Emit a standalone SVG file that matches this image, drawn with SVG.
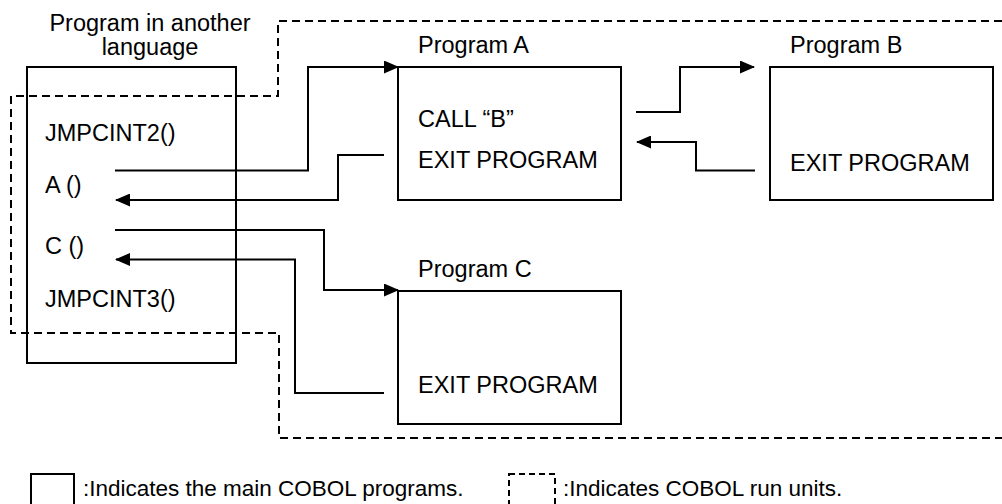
<svg xmlns="http://www.w3.org/2000/svg" width="1002" height="504" viewBox="0 0 1002 504">
<style>
  text { font-family: "Liberation Sans", Arial, sans-serif; font-size: 23.5px; fill: #000; }
  .legend text { font-size: 22.5px; }
  .box { fill: none; stroke: #000; stroke-width: 2; }
  .run { fill: none; stroke: #000; stroke-width: 2; stroke-dasharray: 8 5; }
  .conn { fill: none; stroke: #000; stroke-width: 2; marker-end: url(#ah); }
</style>
<defs>
  <marker id="ah" markerWidth="15" markerHeight="13" refX="14" refY="6.5" orient="auto" markerUnits="userSpaceOnUse">
    <path d="M0,0 L15,6.5 L0,13 Z" fill="#000"/>
  </marker>
</defs>
<rect width="1002" height="504" fill="#fff"/>

<g id="run-unit">
  <path class="run" d="M1002,21 H278 V96 H11 V333 H279 V438 H1002"/>
</g>

<g id="node-other">
  <rect class="box" x="27" y="67" width="209" height="296"/>
  <text x="150" y="31" text-anchor="middle">Program in another</text>
  <text x="150" y="55" text-anchor="middle">language</text>
  <text x="45" y="141">JMPCINT2()</text>
  <text x="45" y="193">A ()</text>
  <text x="45" y="254">C ()</text>
  <text x="45" y="307">JMPCINT3()</text>
</g>

<g id="node-a">
  <rect class="box" x="398" y="67" width="223" height="133"/>
  <text x="418" y="53">Program A</text>
  <text x="418" y="127">CALL “B”</text>
  <text x="418" y="168">EXIT PROGRAM</text>
</g>

<g id="node-b">
  <rect class="box" x="770" y="67" width="223" height="133"/>
  <text x="790" y="53">Program B</text>
  <text x="790" y="171">EXIT PROGRAM</text>
</g>

<g id="node-c">
  <rect class="box" x="398" y="291" width="223" height="133"/>
  <text x="418" y="277">Program C</text>
  <text x="418" y="393">EXIT PROGRAM</text>
</g>

<g id="connectors">
  <path class="conn" d="M115,170.5 H308 V67 H398"/>
  <path class="conn" d="M384,155 H338 V200 H116"/>
  <path class="conn" d="M115,230 H324 V290 H398"/>
  <path class="conn" d="M384,393 H295 V259.5 H116"/>
  <path class="conn" d="M636,112 H680 V67 H754"/>
  <path class="conn" d="M755,170.5 H696 V142 H637"/>
</g>

<g id="legend" class="legend">
  <rect class="box" x="31" y="474" width="43" height="40"/>
  <text x="83" y="496">:Indicates the main COBOL programs.</text>
  <rect class="run" x="509" y="474" width="46" height="40" style="stroke-dasharray:6 4"/>
  <text x="563" y="496">:Indicates COBOL run units.</text>
</g>
</svg>
